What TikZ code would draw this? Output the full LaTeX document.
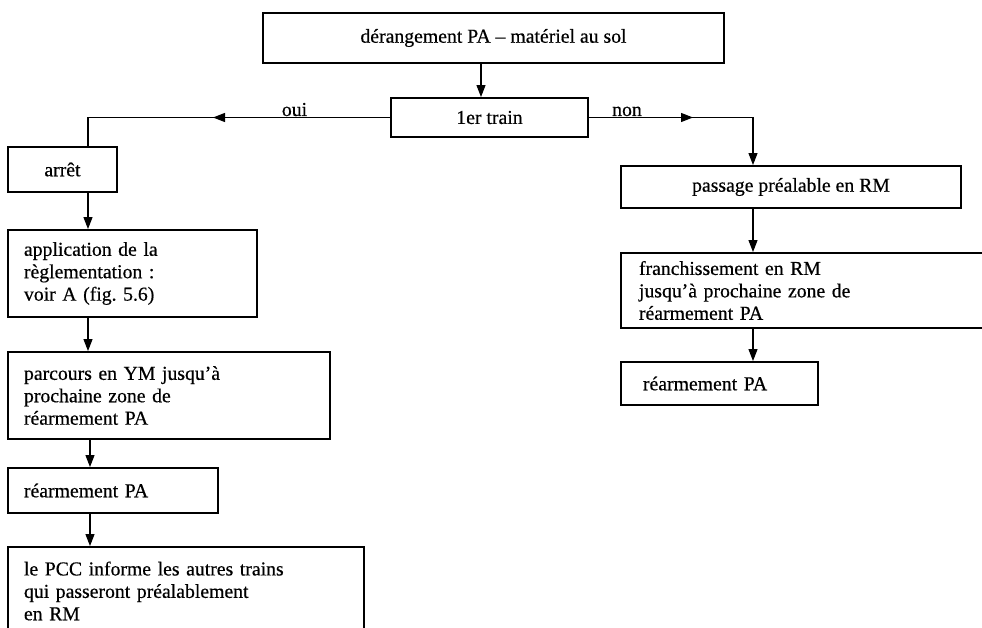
\documentclass[tikz,border=0pt]{standalone}
\usepackage{fontspec}
\setmainfont{Liberation Serif}[FakeBold=0.5]
\usetikzlibrary{arrows.meta}
\frenchspacing
\begin{document}
\begin{tikzpicture}[x=1bp,y=-1bp,
  txt/.style={font=\fontsize{19.8}{22.5}\selectfont},
  box/.style={draw, line width=1.9bp, inner sep=0pt, txt},
  lbox/.style={box, align=left, inner xsep=16bp},
  conn/.style={line width=1.1bp},
  arr/.style={conn, -{Triangle[length=12bp,width=9bp]}},
  lbl/.style={txt, inner sep=0pt, anchor=base}]
\useasboundingbox (0,0) rectangle (982,628);
\clip (0,0) rectangle (982,628);

% boxes
\node[box, minimum width=461bp, minimum height=50bp] (top) at (493.5,38) {dérangement PA – matériel au sol};
\node[box, minimum width=197bp, minimum height=39bp] (tr) at (489.5,117.5) {1er train};

\node[box, minimum width=109bp, minimum height=45bp] (arret) at (62.5,169.5) {arrêt};
\node[lbox, text width=217bp, minimum height=87bp] (app) at (132.5,273.5)
  {application de la\\règlementation :\\voir A (fig. 5.6)};
\node[lbox, text width=290bp, minimum height=87bp] (parc) at (169,395.5)
  {parcours en YM jusqu’à\\prochaine zone de\\réarmement PA};
\node[lbox, text width=178bp, minimum height=45bp] (rea1) at (113,490.5) {réarmement PA};
\node[lbox, text width=324bp, minimum height=88bp] (pcc) at (186,591)
  {le PCC informe les autres trains\\qui passeront préalablement\\en RM};

\node[box, minimum width=340bp, minimum height=42bp] (pass) at (791,187) {passage préalable en RM};
\node[lbox, inner xsep=18bp, text width=343bp, minimum height=75bp] (franch) at (810.5,290.5)
  {franchissement en RM\\jusqu’à prochaine zone de\\réarmement PA};
\node[lbox, inner xsep=22bp, text width=153bp, minimum height=43bp] (rea2) at (719.5,383.5) {réarmement PA};

% guide columns for the vertical connectors
\coordinate (xtop) at (481,0);
\coordinate (xl) at (88,0);
\coordinate (xl2) at (90,0);
\coordinate (xr) at (753,0);

% main flow
\draw[arr] (top.south -| xtop) -- (tr.north -| xtop);

% "oui" branch
\draw[conn] (tr.west) -| (arret.north -| xl);
\coordinate (oa) at (240,117.5);
\coordinate (ob) at (213,117.5);
\draw[arr] (oa) -- (ob);
\node[lbl] (oui) at (294.5,116) {oui};

% "non" branch
\draw[arr] (tr.east) -| (pass.north -| xr);
\coordinate (na) at (665,117.5);
\coordinate (nb) at (693,117.5);
\draw[arr] (na) -- (nb);
\node[lbl] (non) at (627,116) {non};

% left column
\draw[arr] (arret.south -| xl) -- (app.north -| xl);
\draw[arr] (app.south -| xl) -- (parc.north -| xl);
\draw[arr] (parc.south -| xl2) -- (rea1.north -| xl2);
\draw[arr] (rea1.south -| xl2) -- (pcc.north -| xl2);

% right column
\draw[arr] (pass.south -| xr) -- (franch.north -| xr);
\draw[arr] (franch.south -| xr) -- (rea2.north -| xr);
\end{tikzpicture}
\end{document}
